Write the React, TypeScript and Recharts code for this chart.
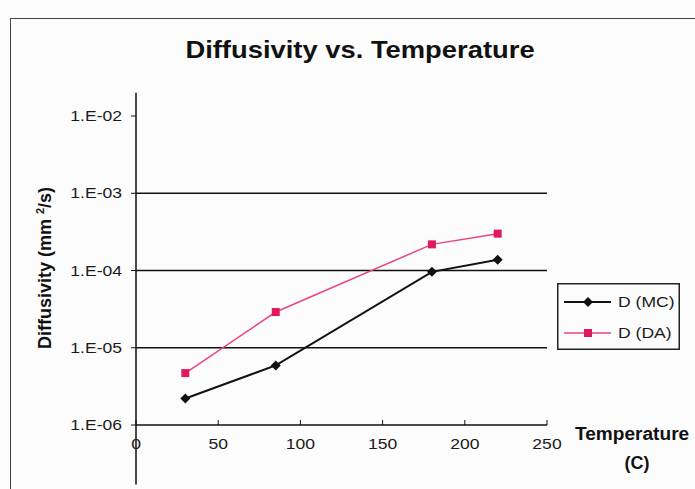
import React from 'react';
import { LineChart, Line, XAxis, YAxis, ReferenceLine, Legend } from 'recharts';

// Measured diffusivity (mm^2/s) at each temperature (C)
const temperatures = [30, 85, 180, 220];
const dMC = [2.2e-6, 5.9e-6, 9.6e-5, 1.38e-4];
const dDA = [4.7e-6, 2.9e-5, 2.18e-4, 3.0e-4];
const seriesNames = ['D (MC)', 'D (DA)'];

const xTicks = [0, 50, 100, 150, 200, 250];
const yTicks = [1e-6, 1e-5, 1e-4, 1e-3, 1e-2];
const gridValues = [1e-5, 1e-4, 1e-3];
// the vertical axis line runs a little past the plotted range at both ends
const axisSpan = [2e-2, 1.7e-7];

const data = temperatures.map((t, i) => ({ t, mc: dMC[i], da: dDA[i] }));

const FONT = 'Arial, "Liberation Sans", sans-serif';
const BLACK = '#111';
const TEXT = '#1a1a1a';
const RED_LINE = '#e8457a';
const RED_MARK = '#e01a5a';
// the chart's lettering is set slightly wide
const WIDE = 1.17;

const formatExp = (v: number) => {
  const e = Math.round(Math.log10(v));
  const sign = e < 0 ? '-' : '+';
  return `1.E${sign}${String(Math.abs(e)).padStart(2, '0')}`;
};

const Diamond = (props: any) => {
  const { cx, cy } = props;
  if (cx == null || cy == null) return null;
  const r = 5;
  return <path d={`M${cx},${cy - r}L${cx + r},${cy}L${cx},${cy + r}L${cx - r},${cy}Z`} fill={BLACK} />;
};

const Square = (props: any) => {
  const { cx, cy } = props;
  if (cx == null || cy == null) return null;
  return <rect x={cx - 4} y={cy - 4} width={8} height={8} fill={RED_MARK} />;
};

const WideText = ({ x, y, anchor, size = 15, children }: any) => (
  <text
    transform={`translate(${x},${y}) scale(${WIDE},1)`}
    textAnchor={anchor}
    fontSize={size}
    fontFamily={FONT}
    fill={TEXT}
  >
    {children}
  </text>
);

const XTick = (props: any) => {
  const { x, y, payload } = props;
  const axisY = y - 12;
  return (
    <g>
      <line x1={x} x2={x} y1={axisY - 5} y2={axisY} stroke={BLACK} strokeWidth={1} />
      <WideText x={x} y={axisY + 24} anchor="middle">
        {payload.value}
      </WideText>
    </g>
  );
};

const YTick = (props: any) => {
  const { x, y, payload } = props;
  return (
    <WideText x={x + 1} y={y + 5} anchor="end">
      {formatExp(payload.value)}
    </WideText>
  );
};

const LegendBox = () => (
  <svg width={123} height={67} style={{ display: 'block' }}>
    <rect x={0.75} y={0.75} width={121.5} height={65.5} fill="none" stroke="#222" strokeWidth={1.5} />
    <line x1={7} x2={54} y1={19} y2={19} stroke={BLACK} strokeWidth={2} />
    <Diamond cx={31} cy={19} />
    <WideText x={61} y={24} anchor="start">{seriesNames[0]}</WideText>
    <line x1={7} x2={54} y1={50} y2={50} stroke={RED_LINE} strokeWidth={1.5} />
    <Square cx={31} cy={50} />
    <WideText x={61} y={55} anchor="start">{seriesNames[1]}</WideText>
  </svg>
);

export default function App() {
  return (
    <div
      style={{
        position: 'absolute',
        left: 0,
        top: 0,
        width: 695,
        height: 489,
        overflow: 'hidden',
        background: '#fcfcfc',
        fontFamily: FONT,
      }}
    >
      <div
        style={{
          position: 'absolute',
          left: 10,
          top: 18,
          width: 720,
          height: 520,
          border: '1.5px solid #444',
          boxSizing: 'border-box',
        }}
      />
      <div
        style={{
          position: 'absolute',
          left: 360,
          top: 50,
          transform: 'translate(-50%, -50%) scaleX(1.14)',
          fontSize: 24,
          fontWeight: 'bold',
          whiteSpace: 'nowrap',
          color: '#111',
        }}
      >
        Diffusivity vs. Temperature
      </div>
      <div
        style={{
          position: 'absolute',
          left: 45,
          top: 268,
          transform: 'translate(-50%, -50%) rotate(-90deg)',
          fontSize: 18,
          fontWeight: 'bold',
          whiteSpace: 'nowrap',
          color: '#111',
        }}
      >
        Diffusivity (mm <sup style={{ fontSize: 11 }}>2</sup>/s)
      </div>
      <div
        style={{
          position: 'absolute',
          left: 575,
          top: 434,
          transform: 'translateY(-50%) scaleX(1.06)',
          transformOrigin: 'left center',
          fontSize: 18,
          fontWeight: 'bold',
          whiteSpace: 'nowrap',
          color: '#111',
        }}
      >
        Temperature
      </div>
      <div
        style={{
          position: 'absolute',
          left: 637,
          top: 463,
          transform: 'translate(-50%, -50%)',
          fontSize: 18,
          fontWeight: 'bold',
          color: '#111',
        }}
      >
        (C)
      </div>
      <div style={{ position: 'absolute', left: 0, top: 0 }}>
        <LineChart width={695} height={489} data={data} margin={{ top: 116, right: 148, bottom: 0, left: 0 }}>
          <XAxis
            dataKey="t"
            type="number"
            domain={[0, 250]}
            ticks={xTicks}
            height={64}
            axisLine={{ stroke: BLACK, strokeWidth: 1.5 }}
            tickLine={false}
            tickSize={0}
            tickMargin={12}
            tick={<XTick />}
            interval={0}
          />
          <YAxis
            type="number"
            scale="log"
            domain={[1e-6, 1e-2]}
            ticks={yTicks}
            width={136}
            allowDataOverflow
            axisLine={false}
            tickLine={{ stroke: BLACK, strokeWidth: 1 }}
            tickSize={5}
            tickMargin={10}
            tick={<YTick />}
            interval={0}
          />
          {gridValues.map((v) => (
            <ReferenceLine key={v} y={v} stroke={BLACK} strokeWidth={1.3} />
          ))}
          <ReferenceLine
            segment={[
              { x: 0, y: axisSpan[0] },
              { x: 0, y: axisSpan[1] },
            ]}
            ifOverflow="visible"
            stroke={BLACK}
            strokeWidth={1.5}
          />
          <Line
            dataKey="mc"
            name={seriesNames[0]}
            stroke={BLACK}
            strokeWidth={2}
            dot={<Diamond />}
            activeDot={false}
            isAnimationActive={false}
          />
          <Line
            dataKey="da"
            name={seriesNames[1]}
            stroke={RED_LINE}
            strokeWidth={1.5}
            dot={<Square />}
            activeDot={false}
            isAnimationActive={false}
          />
          <Legend
            layout="horizontal"
            align="center"
            verticalAlign="middle"
            content={<LegendBox />}
            wrapperStyle={{ left: 557, top: 283, width: 123, height: 67 }}
          />
        </LineChart>
      </div>
    </div>
  );
}
